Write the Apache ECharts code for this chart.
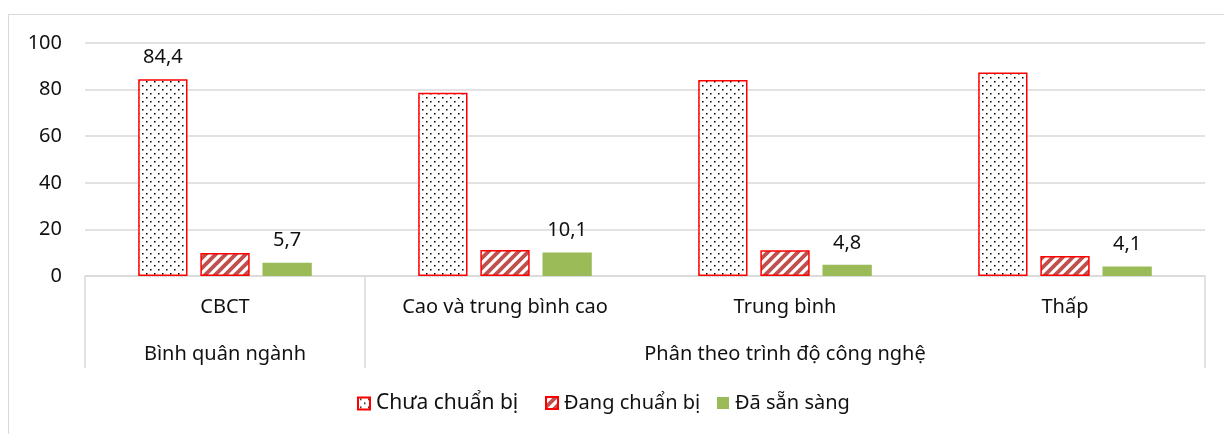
<!DOCTYPE html>
<html>
<head>
<meta charset="utf-8">
<script src="https://cdn.jsdelivr.net/npm/echarts@6/dist/echarts.min.js"></script>
<style>
  html, body { margin: 0; padding: 0; background: #fff; }
  #chart { width: 1224px; height: 434px; }
</style>
</head>
<body>
<div id="chart"></div>
<script>
// Categories (level 1) and their group headings (level 2)
const categories = ['CBCT', 'Cao và trung bình cao', 'Trung bình', 'Thấp'];
const groupLabels = ['Bình quân ngành', '', 'Phân theo trình độ công nghệ', ''];

// Series names and values (%)
const seriesNames = ['Chưa chuẩn bị', 'Đang chuẩn bị', 'Đã sẵn sàng'];
const chuaChuanBi = [84.4, 78.7, 84.1, 87.3];
const dangChuanBi = [9.9, 11.2, 11.1, 8.6];
const daSanSang = [5.7, 10.1, 4.8, 4.1];

// Which points carry a value label
const chuaLabels = [true, false, false, false];
const dangLabels = [false, false, false, false];
const daLabels = [true, true, true, true];

// Y-axis ticks
const yTicks = [0, 20, 40, 60, 80, 100];

const FONT = '"Noto Sans", "Open Sans", sans-serif';

// Dotted fill: staggered black dots on white
function dotPattern() {
  const c = document.createElement('canvas');
  c.width = 8; c.height = 8;
  const g = c.getContext('2d');
  g.fillStyle = '#fff';
  g.fillRect(0, 0, 8, 8);
  g.fillStyle = '#000';
  g.fillRect(2, 1, 1.5, 1.5);
  g.fillRect(6, 5, 1.5, 1.5);
  return c;
}

// Diagonal hatch fill: dark-red stripes on white
function hatchPattern() {
  const s = 10;
  const c = document.createElement('canvas');
  c.width = s; c.height = s;
  const g = c.getContext('2d');
  g.fillStyle = '#fff';
  g.fillRect(0, 0, s, s);
  g.strokeStyle = '#C0504D';
  g.lineWidth = 3.8;
  g.beginPath();
  g.moveTo(0, s); g.lineTo(s, 0);
  g.moveTo(-s / 2, s / 2); g.lineTo(s / 2, -s / 2);
  g.moveTo(s / 2, s * 1.5); g.lineTo(s * 1.5, s / 2);
  g.stroke();
  return c;
}

const fmt = p => String(p.value).replace('.', ',');

function withLabels(values, flags) {
  return values.map((v, i) => ({ value: v, label: { show: flags[i] } }));
}

const labelStyle = {
  position: 'top',
  distance: 12,
  formatter: fmt,
  color: '#111',
  fontFamily: FONT,
  fontSize: 20
};

// One legend block per series so each entry sits at its own spot
const legendLefts = [357, 545, 717];
const legendSizes = [21, 20, 20];
const legends = seriesNames.map((name, i) => ({
  data: [name],
  left: legendLefts[i],
  top: 393,
  padding: 0,
  icon: 'rect',
  itemWidth: 12,
  itemHeight: 12,
  textStyle: { fontFamily: FONT, fontSize: legendSizes[i], color: '#111', padding: [0, 0, 0, 1] }
}));

const chart = echarts.init(document.getElementById('chart'), null, { renderer: 'canvas' });

chart.setOption({
  animation: false,
  backgroundColor: '#fff',
  textStyle: { fontFamily: FONT },
  graphic: [{
    type: 'rect',
    shape: { x: 8.5, y: 14.5, width: 1300, height: 600 },
    style: { fill: 'none', stroke: '#d9d9d9', lineWidth: 1 },
    silent: true
  }],
  grid: { left: 85, right: 19, top: 43, bottom: 158 },
  legend: legends,
  xAxis: [{
    type: 'category',
    data: categories,
    position: 'bottom',
    axisLine: { show: true, lineStyle: { color: '#d9d9d9', width: 1.5 } },
    axisTick: {
      show: true,
      length: 92,
      interval: idx => idx <= 1,
      lineStyle: { color: '#d9d9d9', width: 1.5 }
    },
    axisLabel: { interval: 0, margin: 21, color: '#111', fontFamily: FONT, fontSize: 20 }
  }, {
    type: 'category',
    data: groupLabels,
    position: 'bottom',
    axisLine: { show: false },
    axisTick: { show: false },
    axisLabel: { interval: 0, margin: 68, color: '#111', fontFamily: FONT, fontSize: 20 }
  }],
  yAxis: {
    type: 'value',
    min: yTicks[0],
    max: yTicks[yTicks.length - 1],
    interval: yTicks[1] - yTicks[0],
    axisLine: { show: false },
    axisTick: { show: false },
    axisLabel: { margin: 23, color: '#111', fontFamily: FONT, fontSize: 20 },
    splitLine: { lineStyle: { color: '#d9d9d9', width: 1.5 } }
  },
  series: [{
    name: seriesNames[0],
    type: 'bar',
    barGap: '26%',
    barCategoryGap: '38%',
    data: withLabels(chuaChuanBi, chuaLabels),
    itemStyle: {
      color: { image: dotPattern(), repeat: 'repeat' },
      borderColor: '#ff0000',
      borderWidth: 1.5
    },
    label: labelStyle
  }, {
    name: seriesNames[1],
    type: 'bar',
    data: withLabels(dangChuanBi, dangLabels),
    itemStyle: {
      color: { image: hatchPattern(), repeat: 'repeat' },
      borderColor: '#ff0000',
      borderWidth: 1.5
    },
    label: labelStyle
  }, {
    name: seriesNames[2],
    type: 'bar',
    data: withLabels(daSanSang, daLabels),
    itemStyle: { color: '#9BBB59' },
    label: labelStyle
  }]
});
</script>
</body>
</html>
